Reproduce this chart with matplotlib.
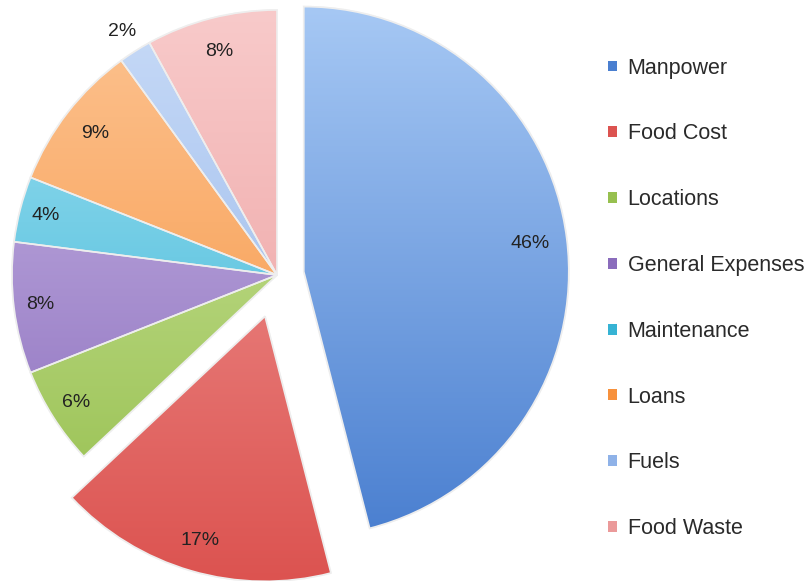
import numpy as np
import matplotlib
matplotlib.use('Agg')
import matplotlib.pyplot as plt
import matplotlib.patches as mpatches
from matplotlib.colors import LinearSegmentedColormap, to_rgb

# data
labels = ['Manpower', 'Food Cost', 'Locations', 'General Expenses',
          'Maintenance', 'Loans', 'Fuels', 'Food Waste']
shares = [46, 17, 6, 8, 4, 9, 2, 8]

base_colors = ['#4a7fd0', '#dc5350', '#97c04f', '#8a6cbc',
               '#36b3d4', '#f7913c', '#8fb2e8', '#eb9a9a']
light_colors = ['#a6c8f4', '#f09a98', '#cfe6a2', '#c9b8e6',
                '#9fe0f2', '#fcc391', '#c7daf7', '#f8caca']
explode = [27, 43, 0, 0, 0, 0, 0, 0]   # in pixels
pct_dist = [0.86, 0.88, 0.9, 0.9, 0.9, 0.87, 1.09, 0.87]

fig = plt.figure(figsize=(8.11, 5.81), dpi=100)
ax = fig.add_axes([0, 0, 1, 1])

R = 265
wedges, texts, autotexts = ax.pie(shares, colors=base_colors, explode=explode,
                                  startangle=90, counterclock=False,
                                  center=(277, 306), radius=R,
                                  autopct='%1.0f%%', pctdistance=0.85,
                                  frame=True,
                                  wedgeprops=dict(edgecolor='#f4f4f4', linewidth=1.2),
                                  textprops=dict(fontsize=14, color='#222222',
                                                 family='Liberation Sans'))
ax.set_xlim(0, 811)
ax.set_ylim(0, 581)
ax.axis('off')

# vertical gradient inside each slice (excel style)
grad = np.linspace(0, 1, 256).reshape(-1, 1)
for w, c0, c1 in zip(wedges, light_colors, base_colors):
    cx, cy = w.center
    cmap = LinearSegmentedColormap.from_list('g', [to_rgb(c1), to_rgb(c0)])
    im = ax.imshow(grad, cmap=cmap, origin='lower', aspect='auto',
                   extent=(cx - R, cx + R, cy - R, cy + R), zorder=1.5)
    im.set_clip_path(w)
    w.set_zorder(1)

# edges over gradient
for w in wedges:
    e = mpatches.Wedge(w.center, w.r, w.theta1, w.theta2, facecolor='none',
                       edgecolor='#eeeeee', linewidth=1.2, zorder=2)
    ax.add_patch(e)

# label placement
for t, w, d in zip(autotexts, wedges, pct_dist):
    th = np.deg2rad(0.5 * (w.theta1 + w.theta2))
    cx, cy = w.center
    t.set_position((cx + d * R * np.cos(th), cy + d * R * np.sin(th)))
    t.set_zorder(3)

handles = [mpatches.Patch(facecolor=c, edgecolor='none') for c in base_colors]
leg = fig.legend(handles, labels, loc='upper left', bbox_to_anchor=(0.726, 0.934),
                 frameon=False, prop=dict(family='Liberation Sans', size=15.5),
                 handlelength=0.4, handleheight=0.4, handletextpad=0.5,
                 labelspacing=2.08, labelcolor='#2a2a2a')

fig.savefig('out.png', dpi=100)
